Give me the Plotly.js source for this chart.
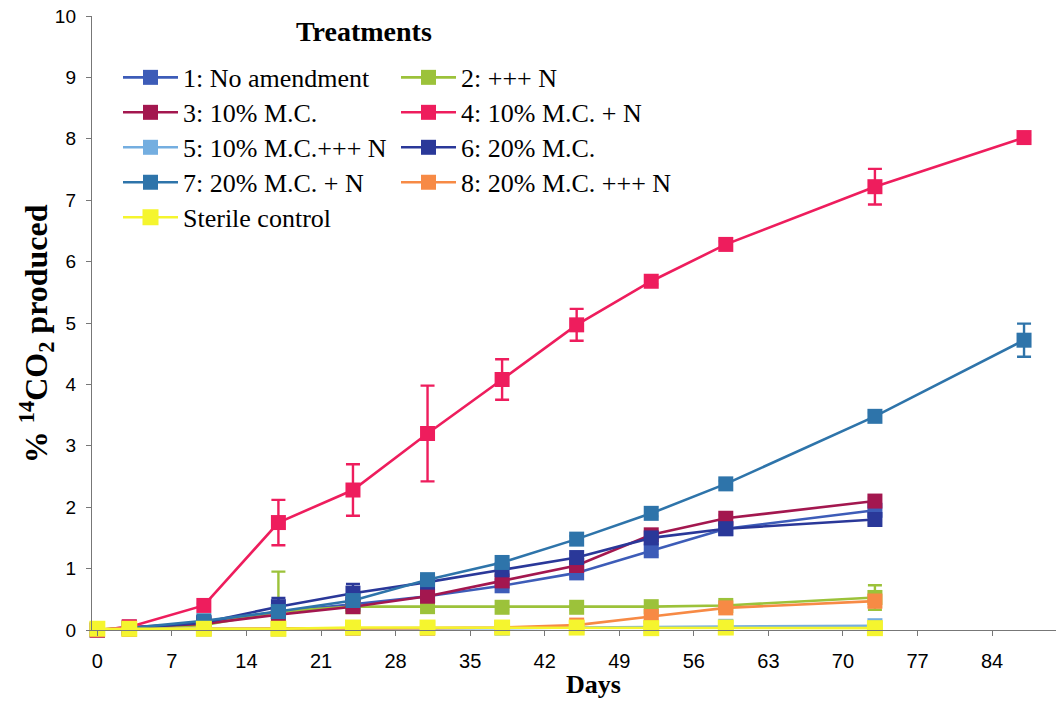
<!DOCTYPE html>
<html><head><meta charset="utf-8">
<script src="https://cdn.plot.ly/plotly-3.0.1.min.js"></script>
<style>html,body{margin:0;padding:0;background:#fff}</style>
</head><body><div id="chart" style="width:1057px;height:702px"></div>
<script>
// ---- data ----
const daysShort = [0, 3, 10, 17, 24, 31, 38, 45, 52, 59, 73];
const daysLong  = [0, 3, 10, 17, 24, 31, 38, 45, 52, 59, 73, 87];

const seriesNames = [
  "1: No amendment", "2: +++ N", "3: 10% M.C.", "4: 10% M.C. + N",
  "5: 10% M.C.+++ N", "6: 20% M.C.", "7: 20% M.C. + N", "8: 20% M.C. +++ N",
  "Sterile control"
];

const noAmendment   = [0, 0.03, 0.12, 0.30, 0.42, 0.55, 0.72, 0.93, 1.29, 1.65, 1.95];
const noAmendmentE  = [0, 0, 0, 0.05, 0.05, 0, 0.04, 0.06, 0.07, 0.06, 0.05];
const plusN3        = [0, 0.03, 0.08, 0.30, 0.38, 0.38, 0.37, 0.37, 0.38, 0.40, 0.53];
const plusN3E       = [0, 0, 0, 0.65, 0.04, 0.04, 0.04, 0.04, 0.03, 0.03, 0.20];
const mc10          = [0, 0.05, 0.10, 0.25, 0.38, 0.55, 0.80, 1.05, 1.55, 1.82, 2.10];
const mc10E         = [0, 0.04, 0, 0.03, 0.03, 0.03, 0.05, 0.05, 0.06, 0.05, 0.05];
const mc10N         = [0, 0.05, 0.40, 1.75, 2.28, 3.20, 4.08, 4.97, 5.68, 6.28, 7.22, 8.02];
const mc10NE        = [0, 0, 0.03, 0.37, 0.42, 0.78, 0.33, 0.26, 0.05, 0.05, 0.29, 0.04];
const mc10N3        = [0, 0.01, 0.02, 0.02, 0.03, 0.03, 0.03, 0.04, 0.05, 0.06, 0.07];
const mc20          = [0, 0.03, 0.12, 0.38, 0.60, 0.78, 0.98, 1.18, 1.50, 1.65, 1.80];
const mc20E         = [0, 0, 0, 0.14, 0.15, 0.04, 0.05, 0.05, 0.08, 0.08, 0.05];
const mc20N         = [0, 0.03, 0.15, 0.30, 0.48, 0.82, 1.10, 1.48, 1.90, 2.38, 3.48, 4.72];
const mc20NE        = [0, 0, 0, 0.05, 0.05, 0.04, 0.04, 0.05, 0.05, 0.05, 0.06, 0.27];
const mc20N3        = [0, 0.01, 0.02, 0.02, 0.03, 0.03, 0.04, 0.08, 0.22, 0.36, 0.47];
const mc20N3E       = [0, 0, 0, 0, 0, 0, 0, 0.02, 0.03, 0.03, 0.10];
const sterile       = [0.02, 0.02, 0.02, 0.02, 0.04, 0.04, 0.04, 0.04, 0.03, 0.04, 0.03];

const xTicks = [0, 7, 14, 21, 28, 35, 42, 49, 56, 63, 70, 77, 84];

// ---- styling ----
const colors = ["#3d5cb8", "#9cc23a", "#a3174f", "#ee1d5d", "#74aee0",
                "#2a3899", "#2e74aa", "#f78a45", "#f5f52e"];

function mk(i, x, y, e) {
  const tr = {
    type: "scatter", mode: "lines+markers", name: seriesNames[i],
    x: x, y: y, cliponaxis: false,
    line: {color: colors[i], width: 2.6},
    marker: {symbol: "square", size: i === 8 ? 16 : 15, color: colors[i]},
    legend: i === 0 ? "legend" : "legend" + (i + 1),
    hoverinfo: "x+y+name"
  };
  if (e) tr.error_y = {type: "data", array: e, visible: true, color: colors[i], thickness: 2.4, width: 7};
  return tr;
}

const data = [
  mk(0, daysShort, noAmendment, noAmendmentE),
  mk(1, daysShort, plusN3, plusN3E),
  mk(2, daysShort, mc10, mc10E),
  mk(4, daysShort, mc10N3, null),
  mk(5, daysShort, mc20, mc20E),
  mk(6, daysLong, mc20N, mc20NE),
  mk(7, daysShort, mc20N3, mc20N3E),
  mk(3, daysLong, mc10N, mc10NE),
  mk(8, daysShort, sterile, null)
];

// plot area in px: left 92, width 964, top 15.5, height 614.5
const L = 92, W = 964, T = 15.5, H = 614.5;
const px2x = p => (p - L) / W;
const px2y = p => (T + H - p) / H;

const colX = [118, 396];
const rowY = [77, 112, 147, 182, 217];
const serif = "Liberation Serif, Times New Roman, serif";

const layout = {
  width: 1057, height: 702,
  margin: {l: L, r: 1057 - L - W, t: T, b: 702 - T - H},
  paper_bgcolor: "#ffffff", plot_bgcolor: "#ffffff",
  font: {family: "Liberation Sans, Arial, sans-serif", color: "#000"},
  xaxis: {
    range: [-0.5, 90], tickvals: xTicks, ticks: "outside", ticklen: 5, tickwidth: 1,
    tickcolor: "#777", showline: true, linecolor: "#777", linewidth: 1.2,
    showgrid: false, zeroline: false, tickfont: {size: 20, family: "Liberation Sans, Arial"},
    ticklabelstandoff: 8
  },
  yaxis: {
    range: [0, 10], dtick: 1, ticks: "outside", ticklen: 5, tickwidth: 1,
    tickcolor: "#777", showline: true, linecolor: "#777", linewidth: 1.2,
    showgrid: false, zeroline: false, tickfont: {size: 19, family: "Liberation Sans, Arial"},
    ticklabelstandoff: 6
  },
  showlegend: true,
  annotations: [
    {text: "<b>Treatments</b>", xref: "paper", yref: "paper", x: px2x(364), y: px2y(31),
     xanchor: "center", yanchor: "middle", showarrow: false,
     font: {family: serif, size: 28}},
    {text: "<b>Days</b>", xref: "paper", yref: "paper", x: px2x(593), y: px2y(685),
     xanchor: "center", yanchor: "middle", showarrow: false,
     font: {family: serif, size: 26}},
    {text: "<b>% <sup>14</sup>CO<sub>2</sub> produced</b>", xref: "paper", yref: "paper",
     x: px2x(36), y: px2y(334), xanchor: "center", yanchor: "middle", textangle: -90,
     showarrow: false, font: {family: serif, size: 32}}
  ]
};

// one legend per entry, arranged in two columns
for (let i = 0; i < 9; i++) {
  const key = i === 0 ? "legend" : "legend" + (i + 1);
  const col = i === 8 ? 0 : i % 2;
  const row = Math.floor(i / 2);
  layout[key] = {
    x: px2x(colX[col]), y: px2y(rowY[row]), xref: "paper", yref: "paper",
    xanchor: "left", yanchor: "middle", bgcolor: "rgba(0,0,0,0)",
    font: {family: serif, size: 26, color: "#000"},
    itemwidth: 55, borderwidth: 0, tracegroupgap: 0
  };
}

Plotly.newPlot("chart", data, layout, {displayModeBar: false, staticPlot: true});
</script>
</body></html>
